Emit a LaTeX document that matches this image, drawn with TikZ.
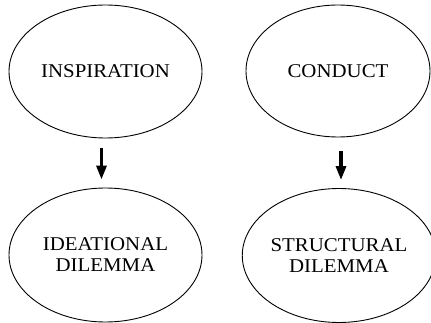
\documentclass[tikz,border=0pt]{standalone}
\usepackage{fontspec}
\setmainfont{Liberation Serif}[FakeStretch=1.07]
\usetikzlibrary{shapes.geometric,arrows.meta}
\begin{document}
\begin{tikzpicture}[x=1pt,y=-1pt,
  bubble/.style={draw=black, line width=0.9pt, ellipse, inner sep=0pt,
    align=center, font=\fontsize{19.5}{21}\selectfont},
  flow/.style={line width=3.2pt, -{Triangle[width=10pt,length=14pt]}}]
\useasboundingbox (0,0) rectangle (431,323);
\node[bubble, minimum width=193pt, minimum height=133pt] (insp) at (105.5,71.5) {INSPIRATION};
\node[bubble, minimum width=193pt, minimum height=134pt] (idea) at (105.5,255) {IDEATIONAL\\DILEMMA};
\node[bubble, minimum width=184pt, minimum height=132pt] (cond) at (338,71) {CONDUCT};
\node[bubble, minimum width=182pt, minimum height=134pt] (struc) at (339,255.5) {STRUCTURAL\\DILEMMA};
\coordinate (a1) at ([xshift=-4pt,yshift=-10pt]insp.south);
\coordinate (a2) at ([xshift=-4pt,yshift=8pt]idea.north);
\coordinate (b1) at ([xshift=3pt,yshift=-14pt]cond.south);
\coordinate (b2) at ([xshift=2pt,yshift=8pt]struc.north);
\draw[flow] (a1) -- (a2);
\draw[flow] (b1) -- (b2);
\end{tikzpicture}
\end{document}
